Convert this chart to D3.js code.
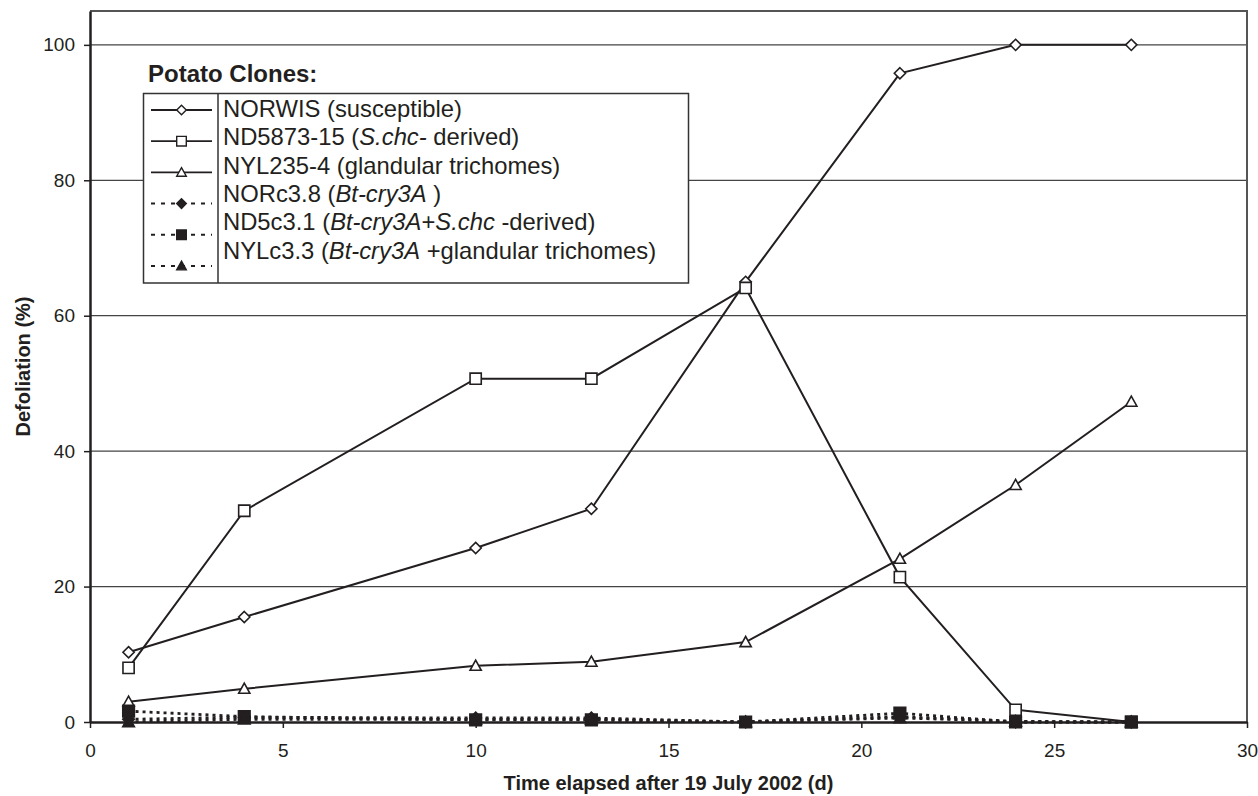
<!DOCTYPE html>
<html>
<head>
<meta charset="utf-8">
<script src="https://cdn.jsdelivr.net/npm/d3@7"></script>
<style>
  body { margin: 0; background: #fff; }
  text { font-family: "Liberation Sans", Arial, Helvetica, sans-serif; fill: #231f20; }
</style>
</head>
<body>
<svg width="1258" height="796"></svg>
<script>
// **** Data ****

var days = [1, 4, 10, 13, 17, 21, 24, 27];

var norwis  = [10.3, 15.5, 25.7, 31.5, 65.0, 95.8, 100, 100];
var nd5873  = [8.0, 31.2, 50.7, 50.7, 64.1, 21.4, 1.8, 0];
var nyl235  = [3.0, 4.9, 8.3, 8.9, 11.8, 24.1, 35.0, 47.3];
var norc38  = [0.4, 0.7, 0.6, 0.6, 0, 0.8, 0, 0];
var nd5c31  = [1.6, 0.8, 0.3, 0.3, 0, 1.3, 0, 0];
var nylc33  = [0, 0.4, 0.4, 0.4, 0, 0.6, 0.1, 0];

var xTicks = [0, 5, 10, 15, 20, 25, 30];
var yTicks = [0, 20, 40, 60, 80, 100];

// legend labels: [text, italic?] pieces
var labels = [
    [["NORWIS (susceptible)", false]],
    [["ND5873-15 (", false], ["S.chc-", true], [" derived)", false]],
    [["NYL235-4 (glandular trichomes)", false]],
    [["NORc3.8 (", false], ["Bt-cry3A", true], [" )", false]],
    [["ND5c3.1 (", false], ["Bt-cry3A", true], ["+", false], ["S.chc", true], [" -derived)", false]],
    [["NYLc3.3 (", false], ["Bt-cry3A", true], [" +glandular trichomes)", false]]
];

var series = [
    {values: norwis, shape: "diamond",  filled: false, dotted: false},
    {values: nd5873, shape: "square",   filled: false, dotted: false},
    {values: nyl235, shape: "triangle", filled: false, dotted: false},
    {values: norc38, shape: "diamond",  filled: true,  dotted: true},
    {values: nd5c31, shape: "square",   filled: true,  dotted: true},
    {values: nylc33, shape: "triangle", filled: true,  dotted: true}
];

// **** Scales ****

var x = d3.scaleLinear().domain([0, 30]).range([90, 1247]);
var y = d3.scaleLinear().domain([0, 105]).range([722, 11]);

var svg = d3.select("svg");

function marker(shape, r) {
    if (shape == "diamond") return "M0," + (-r) + "L" + r + ",0L0," + r + "L" + (-r) + ",0Z";
    if (shape == "square") return "M" + (-r) + "," + (-r) + "h" + (2 * r) + "v" + (2 * r) + "h" + (-2 * r) + "Z";
    return "M0," + (-r) + "L" + r + "," + (r * 0.8) + "L" + (-r) + "," + (r * 0.8) + "Z";
}

// gridlines
svg.append("g").selectAll("line")
    .data(yTicks.filter(function(d) { return d > 0; }))
    .enter().append("line")
    .attr("x1", x(0)).attr("x2", x(30))
    .attr("y1", function(d) { return y(d); })
    .attr("y2", function(d) { return y(d); })
    .style("stroke", "#444").style("stroke-width", 1.2);

// frame top and right
svg.append("path")
    .attr("d", "M" + x(0) + "," + y(105) + "H" + x(30) + "V" + y(0))
    .style("fill", "none").style("stroke", "#555").style("stroke-width", 2);

// axes
var yAxis = svg.append("g").attr("transform", "translate(" + x(0) + ",0)")
    .call(d3.axisLeft(y).tickValues(yTicks).tickSize(6).tickSizeOuter(0).tickPadding(9));
var xAxis = svg.append("g").attr("transform", "translate(0," + y(0) + ")")
    .call(d3.axisBottom(x).tickValues(xTicks).tickSize(6).tickSizeOuter(0).tickPadding(16));

[yAxis, xAxis].forEach(function(a) {
    a.select(".domain").style("stroke", "#231f20").style("stroke-width", 2.5);
    a.selectAll(".tick line").style("stroke", "#231f20").style("stroke-width", 1.5);
    a.selectAll("text").style("font-size", "19px").style("font-family", null).attr("fill", null);
});

// lines
var line = d3.line()
    .x(function(d, i) { return x(days[i]); })
    .y(function(d) { return y(d); });

series.forEach(function(s) {
    svg.append("path")
        .attr("d", line(s.values))
        .style("fill", "none")
        .style("stroke", "#231f20")
        .style("stroke-width", s.dotted ? 2.8 : 2)
        .style("stroke-dasharray", s.dotted ? "3,4" : null);
});

series.forEach(function(s) {
    svg.append("g").selectAll("path")
        .data(s.values)
        .enter().append("path")
        .attr("transform", function(d, i) { return "translate(" + x(days[i]) + "," + y(d) + ")"; })
        .attr("d", marker(s.shape, s.filled ? 5.8 : 5.6))
        .style("fill", s.filled ? "#231f20" : "#fff")
        .style("stroke", "#231f20")
        .style("stroke-width", 1.6);
});

// legend
svg.append("text")
    .attr("x", 148).attr("y", 82)
    .style("font-size", "24px").style("font-weight", "bold")
    .text("Potato Clones:");

var legend = svg.append("g");
legend.append("rect")
    .attr("x", 143.5).attr("y", 93.5).attr("width", 545).attr("height", 189.5)
    .style("fill", "#fff").style("stroke", "#333").style("stroke-width", 1.5);
legend.append("line")
    .attr("x1", 218).attr("x2", 218).attr("y1", 93.5).attr("y2", 283)
    .style("stroke", "#333").style("stroke-width", 1.5);

series.forEach(function(s, i) {
    var sy = 110 + 31.2 * i;
    legend.append("line")
        .attr("x1", 151).attr("x2", 212).attr("y1", sy).attr("y2", sy)
        .style("stroke", "#231f20")
        .style("stroke-width", s.dotted ? 2 : 1.8)
        .style("stroke-dasharray", s.dotted ? "4,6" : null);
    legend.append("path")
        .attr("transform", "translate(181.5," + sy + ")")
        .attr("d", marker(s.shape, 4.8))
        .style("fill", s.filled ? "#231f20" : "#fff")
        .style("stroke", "#231f20").style("stroke-width", 1.4);

    var t = legend.append("text")
        .attr("x", 223).attr("y", 117 + 28.3 * i)
        .style("font-size", "23.8px");
    labels[i].forEach(function(p) {
        t.append("tspan").text(p[0]).style("font-style", p[1] ? "italic" : null);
    });
});

// axis titles
svg.append("text")
    .attr("transform", "translate(30," + ((y(0) + y(105)) / 2) + ") rotate(-90)")
    .attr("text-anchor", "middle")
    .style("font-size", "20px").style("font-weight", "bold")
    .text("Defoliation (%)");

svg.append("text")
    .attr("x", (x(0) + x(30)) / 2).attr("y", 790)
    .attr("text-anchor", "middle")
    .style("font-size", "20px").style("font-weight", "bold")
    .text("Time elapsed after 19 July 2002 (d)");
</script>
</body>
</html>
